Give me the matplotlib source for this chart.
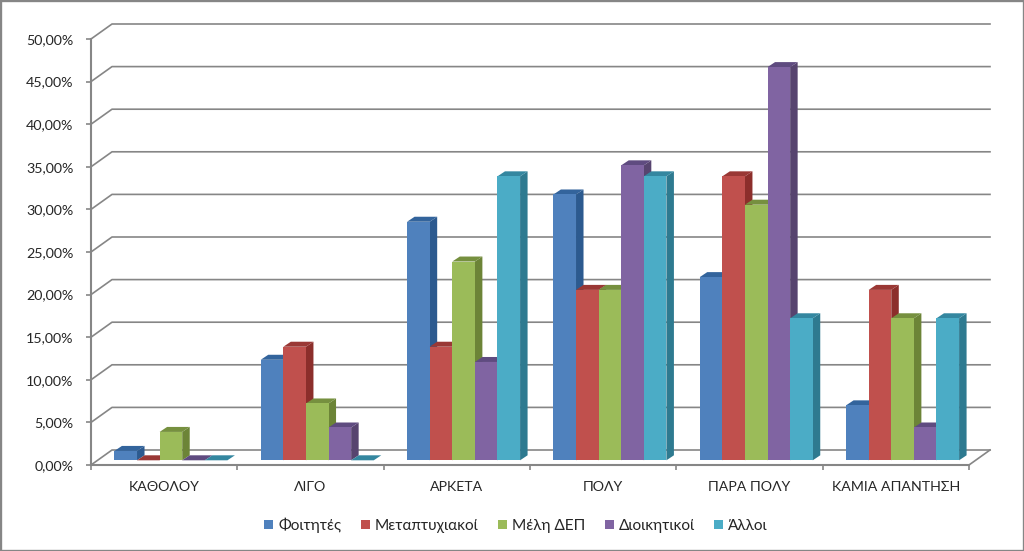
#!/usr/bin/env python3

import matplotlib
matplotlib.use('Agg')
import matplotlib.pyplot as plt
from matplotlib.patches import Polygon, Rectangle

# data
categories = ['ΚΑΘΟΛΟΥ', 'ΛΙΓΟ', 'ΑΡΚΕΤΑ', 'ΠΟΛΥ', 'ΠΑΡΑ ΠΟΛΥ', 'ΚΑΜΙΑ ΑΠΑΝΤΗΣΗ']
series_names = ['Φοιτητές', 'Μεταπτυχιακοί', 'Μέλη ΔΕΠ', 'Διοικητικοί', 'Άλλοι']
foitites = [1.1, 11.8, 28.0, 31.2, 21.5, 6.45]
metaptyxiakoi = [0.0, 13.33, 13.33, 20.0, 33.33, 20.0]
meli_dep = [3.33, 6.67, 23.33, 20.0, 30.0, 16.67]
dioikitikoi = [0.0, 3.85, 11.54, 34.62, 46.15, 3.85]
alloi = [0.0, 0.0, 33.33, 33.33, 16.67, 16.67]
y_ticks = [0, 5, 10, 15, 20, 25, 30, 35, 40, 45, 50]
y_labels = ['0,00%', '5,00%', '10,00%', '15,00%', '20,00%', '25,00%',
            '30,00%', '35,00%', '40,00%', '45,00%', '50,00%']

all_series = [foitites, metaptyxiakoi, meli_dep, dioikitikoi, alloi]
front = ['#4F81BD', '#C0504D', '#9BBB59', '#8064A2', '#4BACC6']
side = ['#2C5A8F', '#8C2E2B', '#6C8437', '#57446F', '#2E7A90']
top = ['#33649C', '#9A3835', '#76903F', '#5F4B80', '#3487A0']

plt.rcParams['font.family'] = ['Lato', 'Open Sans', 'DejaVu Sans']
text_col = '#262626'
line_col = '#868686'

fig = plt.figure(figsize=(10.24, 5.51), dpi=100)
ax = fig.add_axes([91 / 1024, (551 - 465) / 551, 878 / 1024, 426 / 551])
ax.set_xlim(0, 6)
ax.set_ylim(0, 50)

# depth of the fake 3d walls and bars, in axis units
wall_dx = 21 / 146.33
wall_dy = 15 / 8.52
bar_dx = 7.5 / 146.33
bar_dy = 5 / 8.52
bar_base = 4.7 / 8.52
bar_w = 22.6 / 146.33
group_start = 0.16

# back wall
for v in y_ticks:
    ax.plot([0, wall_dx, 6 + wall_dx], [v, v + wall_dy, v + wall_dy],
            color=line_col, lw=1.2, clip_on=False, zorder=1)
ax.plot([6, 6 + wall_dx], [0, wall_dy], color=line_col, lw=1.2, clip_on=False, zorder=1)

# bars
for i, values in enumerate(all_series):
    xs = [c + group_start + i * bar_w for c in range(len(categories))]
    z = 3 + i
    ax.bar(xs, values, bar_w, bottom=bar_base, align='edge', color=front[i],
           label=series_names[i], clip_on=False, zorder=z + 0.5)
    for x, v in zip(xs, values):
        h = v + bar_base
        ax.add_patch(Polygon([(x + bar_w, bar_base), (x + bar_w + bar_dx, bar_base + bar_dy),
                              (x + bar_w + bar_dx, h + bar_dy), (x + bar_w, h)],
                             closed=True, fc=side[i], ec='none', clip_on=False, zorder=z))
        ax.add_patch(Polygon([(x, h), (x + bar_dx, h + bar_dy),
                              (x + bar_w + bar_dx, h + bar_dy), (x + bar_w, h)],
                             closed=True, fc=top[i], ec='none', clip_on=False, zorder=z + 0.2))

# axes
for s in ['top', 'right']:
    ax.spines[s].set_visible(False)
for s in ['left', 'bottom']:
    ax.spines[s].set_color(line_col)
    ax.spines[s].set_linewidth(1.5)
    ax.spines[s].set_zorder(2)

ax.set_yticks(y_ticks)
ax.set_yticklabels(y_labels)
ax.set_xticks(range(7))
ax.set_xticklabels([])
ax.set_xticks([c + 0.5 for c in range(6)], minor=True)
ax.set_xticklabels(categories, minor=True)
ax.tick_params(axis='both', which='major', color=line_col, width=1.2, length=3.6)
ax.tick_params(axis='y', labelsize=10.3, labelcolor=text_col, pad=9)
ax.tick_params(axis='x', which='minor', length=0, labelsize=10.2, labelcolor=text_col, pad=11.5)

# legend
handles, labels = ax.get_legend_handles_labels()
fig.legend(handles, labels, ncol=5, loc='center', bbox_to_anchor=(516 / 1024, 1 - 525 / 551),
           frameon=False, fontsize=11.1, labelcolor=text_col, handlelength=0.59, handleheight=0.52,
           handletextpad=0.33, columnspacing=1.25, borderpad=0, borderaxespad=0)

# outer frame
fig.add_artist(Rectangle((0, 0), 1, 1, transform=fig.transFigure, fc='none', ec=line_col, lw=2.4))

plt.savefig('out.png', dpi=100)
